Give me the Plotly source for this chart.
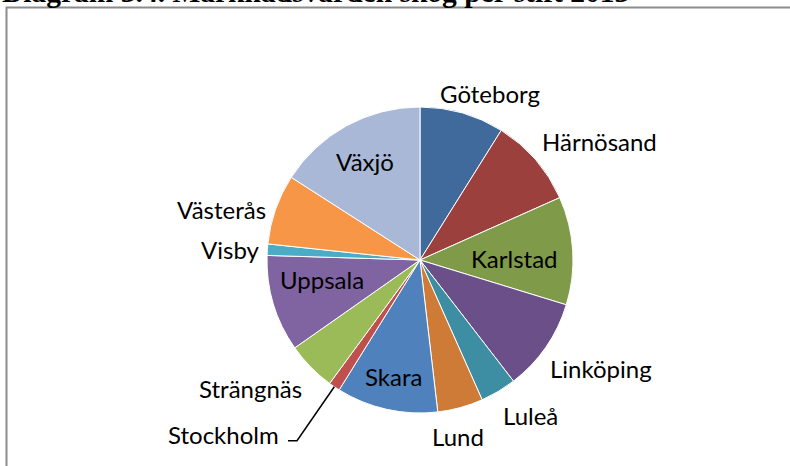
"""Cirkeldiagram: marknadsvärden skog per stift 2013."""

import numpy as np
import plotly.graph_objects as go

# Data (andel av totalt marknadsvärde, %)
stift = [
    "Göteborg", "Härnösand", "Karlstad", "Linköping", "Luleå", "Lund", "Skara",
    "Stockholm", "Strängnäs", "Uppsala", "Visby", "Västerås", "Växjö",
]
andel = [8.9, 9.4, 11.4, 9.8, 3.8, 4.8, 10.7, 1.2, 5.2, 10.2, 1.2, 7.4, 15.9]
farger = [
    "#416A9C", "#9C403E", "#7F9A48", "#6A4F88", "#3D8DA3", "#CD7B37", "#4F81BD",
    "#C0504D", "#9BBB59", "#8064A2", "#4BACC6", "#F79646", "#A9B8D7",
]
titel = "Diagram 3.4. Marknadsvärden skog per stift 2013"

# Layout (pixlar)
W, H = 790, 466
CX, CY, R = 420, 260, 153
FONT = "Lato"
FONT_SIZE = 24

# Etikettpositioner (mitt av texten, pixlar)
etikett_pos = {
    "Göteborg": (490, 94), "Härnösand": (599, 141), "Karlstad": (514, 258),
    "Linköping": (601, 368), "Luleå": (530, 415), "Lund": (458, 436),
    "Skara": (393, 376), "Stockholm": (223, 434), "Strängnäs": (250, 388),
    "Uppsala": (322, 279), "Visby": (230, 250), "Västerås": (221, 209),
    "Växjö": (365, 162),
}


def px(x, y):
    return x / W, 1 - y / H


fig = go.Figure(
    go.Pie(
        labels=stift,
        values=andel,
        sort=False,
        direction="clockwise",
        rotation=0,
        marker=dict(colors=farger, line=dict(color="white", width=1)),
        textinfo="none",
        hoverinfo="label+percent",
        showlegend=False,
        domain=dict(
            x=[(CX - R) / W, (CX + R) / W],
            y=[1 - (CY + R) / H, 1 - (CY - R) / H],
        ),
    )
)

for namn in stift:
    x, y = px(*etikett_pos[namn])
    fig.add_annotation(
        text=namn, x=x, y=y, xref="paper", yref="paper",
        xanchor="center", yanchor="middle", showarrow=False,
        font=dict(family=FONT, size=FONT_SIZE, color="black"),
    )

# Hänvisningslinje till Stockholm, från sektorns mittvinkel
kum = np.cumsum([0] + andel)
i = stift.index("Stockholm")
mitt = np.deg2rad((kum[i] + kum[i + 1]) / 2 / kum[-1] * 360)
ex, ey = CX + R * np.sin(mitt), CY - R * np.cos(mitt)
x0, y0 = px(288, 440.7)
x1, y1 = px(297, 440.7)
x2, y2 = px(ex, ey)
fig.add_shape(
    type="path", xref="paper", yref="paper",
    path=f"M {x0} {y0} L {x1} {y1} L {x2} {y2}",
    line=dict(color="black", width=1.5),
)

# Ram runt diagrammet
fig.add_shape(
    type="rect", xref="paper", yref="paper",
    x0=6.5 / W, x1=1.1, y0=-0.1, y1=1 - 7.5 / H,
    line=dict(color="#8c8c8c", width=2),
)

# Rubrik (delvis utanför bilden, som i originalet)
fig.add_annotation(
    text=f"<b>{titel}</b>", x=0, y=1 + 8 / H, xref="paper", yref="paper",
    xanchor="left", yanchor="middle", showarrow=False,
    font=dict(family="Liberation Serif", size=29.5, color="black"),
)

fig.update_layout(
    width=W, height=H,
    margin=dict(l=0, r=0, t=0, b=0),
    paper_bgcolor="white",
    plot_bgcolor="white",
)

fig.write_html(
    "out.html",
    config={"displayModeBar": False},
    post_script="document.body.style.margin='0';",
)
